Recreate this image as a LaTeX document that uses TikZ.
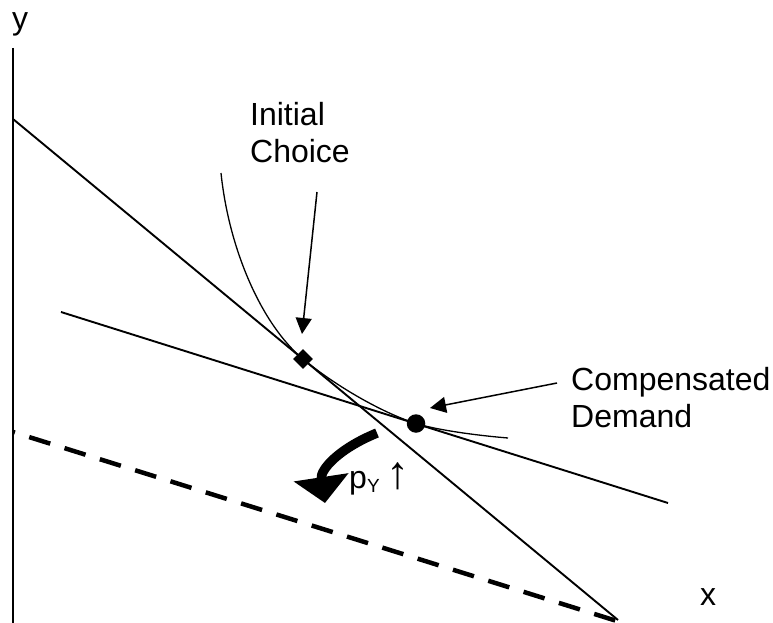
\documentclass[tikz,border=0pt]{standalone}
\usepackage{fontspec}
\setmainfont{Liberation Sans}
\usetikzlibrary{arrows.meta,shapes.geometric}
\begin{document}
\begin{tikzpicture}[x=1pt,y=-1pt,
  lbl/.style={inner sep=0pt, anchor=base west, font=\fontsize{32}{36.5}\selectfont, align=left},
  axisln/.style={line width=1.8pt},
  budget/.style={line width=1.9pt},
  indiff/.style={line width=1.3pt},
  newbudget/.style={line width=4.5pt, dash pattern=on 22pt off 15pt, dash phase=20pt},
  ptr/.style={line width=1.5pt, -{Triangle[length=16pt,width=16pt]}},
  bigarrow/.style={line width=9.5pt, line cap=butt, -{Triangle[length=26pt,width=54pt]}},
]
\useasboundingbox (0,0) rectangle (773,623);
% axis
\coordinate (ytop) at (13,48);
\coordinate (ybot) at (13,623);
\draw[axisln] (ytop) -- (ybot);
% budget lines
\coordinate (s1) at (13,119);
\coordinate (s2) at (618,620);
\draw[budget] (s1) -- (s2);
\coordinate (f1) at (61,312);
\coordinate (f2) at (668,503);
\draw[budget] (f1) -- (f2);
\coordinate (d1) at (13,432);
\coordinate (d2) at (620,622);
\draw[newbudget] (d1) -- (d2);
% indifference curve
\coordinate (c0) at (221,173);
\coordinate (c3) at (508,438);
\draw[indiff] (c0) .. controls (229,250) and (262,325) .. (303,359)
  .. controls (337,387) and (383,413) .. (416,423.5)
  .. controls (435.5,429.5) and (472,435) .. (c3);
% points
\node[diamond, fill, inner sep=0pt, minimum size=20pt] (ic) at (303,359) {};
\node[circle, fill, inner sep=0pt, minimum size=18.5pt] (cd) at (416,423.5) {};
% labels
\node[lbl] (ylab) at (12,30) {y};
\node[lbl] (xlab) at (700,605) {x};
\node[lbl] (ictxt) at (250,162) {Initial\\Choice};
\node[lbl] (cdtxt) at (571,427) {Compensated\\Demand};
\node[lbl] (pylab) at (349,488) {p\raisebox{-4pt}{\fontsize{19}{20}\selectfont Y}\hspace{0.2em}{\fontsize{46}{46}\selectfont ↑}};
% pointers
\coordinate (ica) at (317,192);
\coordinate (ict) at (302,334);
\draw[ptr] (ica) -- (ict);
\coordinate (cda) at (557,383);
\coordinate (cdt) at (430,408);
\draw[ptr] (cda) -- (cdt);
% shift arrow
\coordinate (ba) at (377,433);
\coordinate (bt) at (325,503);
\draw[bigarrow] (ba) .. controls (338,449) and (320,470) .. (bt);
\end{tikzpicture}
\end{document}
